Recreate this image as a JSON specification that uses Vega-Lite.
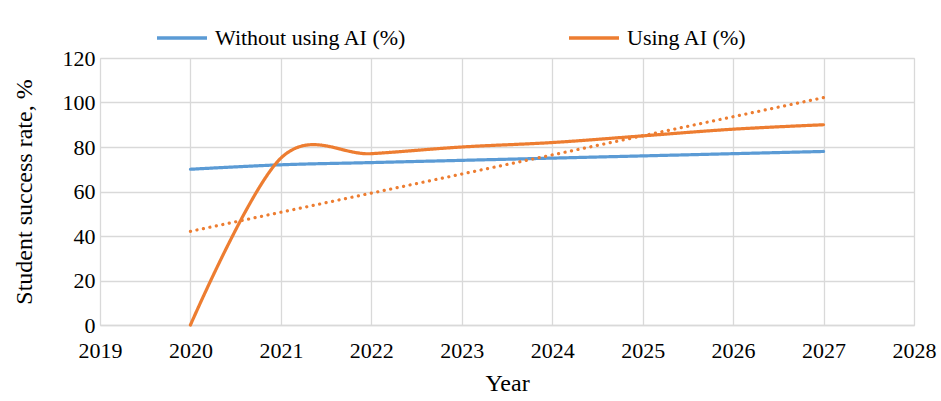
{
  "$schema": "https://vega.github.io/schema/vega-lite/v6.json",
  "width": 814,
  "height": 267,
  "autosize": {"type": "none"},
  "padding": {"left": 100, "top": 58, "right": 27, "bottom": 76},
  "data": {
    "values": [
      {"year": 2020, "series": "Without using AI (%)", "value": 70},
      {"year": 2021, "series": "Without using AI (%)", "value": 72},
      {"year": 2022, "series": "Without using AI (%)", "value": 73},
      {"year": 2023, "series": "Without using AI (%)", "value": 74},
      {"year": 2024, "series": "Without using AI (%)", "value": 75},
      {"year": 2025, "series": "Without using AI (%)", "value": 76},
      {"year": 2026, "series": "Without using AI (%)", "value": 77},
      {"year": 2027, "series": "Without using AI (%)", "value": 78},
      {"year": 2020, "series": "Using AI (%)", "value": 0},
      {"year": 2021, "series": "Using AI (%)", "value": 75},
      {"year": 2022, "series": "Using AI (%)", "value": 77},
      {"year": 2023, "series": "Using AI (%)", "value": 80},
      {"year": 2024, "series": "Using AI (%)", "value": 82},
      {"year": 2025, "series": "Using AI (%)", "value": 85},
      {"year": 2026, "series": "Using AI (%)", "value": 88},
      {"year": 2027, "series": "Using AI (%)", "value": 90},
      {"year": 2020, "series": "Linear (Using AI (%))", "value": 42.1},
      {"year": 2027, "series": "Linear (Using AI (%))", "value": 102.2}
    ]
  },
  "mark": {"type": "line", "interpolate": "cardinal", "strokeWidth": 3.2, "strokeCap": "round"},
  "encoding": {
    "x": {
      "field": "year",
      "type": "quantitative",
      "scale": {"domain": [2019, 2028], "nice": false, "zero": false},
      "axis": {
        "format": "d",
        "tickCount": 9,
        "labelFont": "Liberation Serif",
        "labelFontSize": 22,
        "labelPadding": 15,
        "labelFlush": false,
        "labelOverlap": false,
        "title": "Year",
        "titleFont": "Liberation Serif",
        "titleFontSize": 24,
        "titleFontWeight": "normal",
        "titlePadding": 10,
        "gridColor": "#d9d9d9",
        "gridWidth": 1.3,
        "domainColor": "#d9d9d9",
        "domainWidth": 1.3,
        "ticks": false
      }
    },
    "y": {
      "field": "value",
      "type": "quantitative",
      "scale": {"domain": [0, 120], "nice": false},
      "axis": {
        "tickCount": 6,
        "labelFont": "Liberation Serif",
        "labelFontSize": 22,
        "labelPadding": 5,
        "title": "Student success rate, %",
        "titleFont": "Liberation Serif",
        "titleFontSize": 24,
        "titleFontWeight": "normal",
        "titlePadding": 26,
        "gridColor": "#d9d9d9",
        "gridWidth": 1.3,
        "domain": false,
        "ticks": false
      }
    },
    "color": {
      "field": "series",
      "type": "nominal",
      "scale": {
        "domain": ["Without using AI (%)", "Using AI (%)", "Linear (Using AI (%))"],
        "range": ["#5B9BD5", "#ED7D31", "#ED7D31"]
      },
      "legend": {
        "values": ["Without using AI (%)", "Using AI (%)"],
        "title": null,
        "orient": "none",
        "direction": "horizontal",
        "legendX": 55,
        "legendY": -47,
        "symbolType": "stroke",
        "symbolSize": 2500,
        "symbolStrokeWidth": 3.5,
        "labelFont": "Liberation Serif",
        "labelFontSize": 22,
        "labelLimit": 0,
        "labelOffset": 6,
        "columnPadding": 155,
        "padding": 0
      }
    },
    "strokeDash": {
      "field": "series",
      "type": "nominal",
      "scale": {
        "domain": ["Without using AI (%)", "Using AI (%)", "Linear (Using AI (%))"],
        "range": [[1, 0], [1, 0], [0.1, 6.5]]
      },
      "legend": null
    }
  }
}
